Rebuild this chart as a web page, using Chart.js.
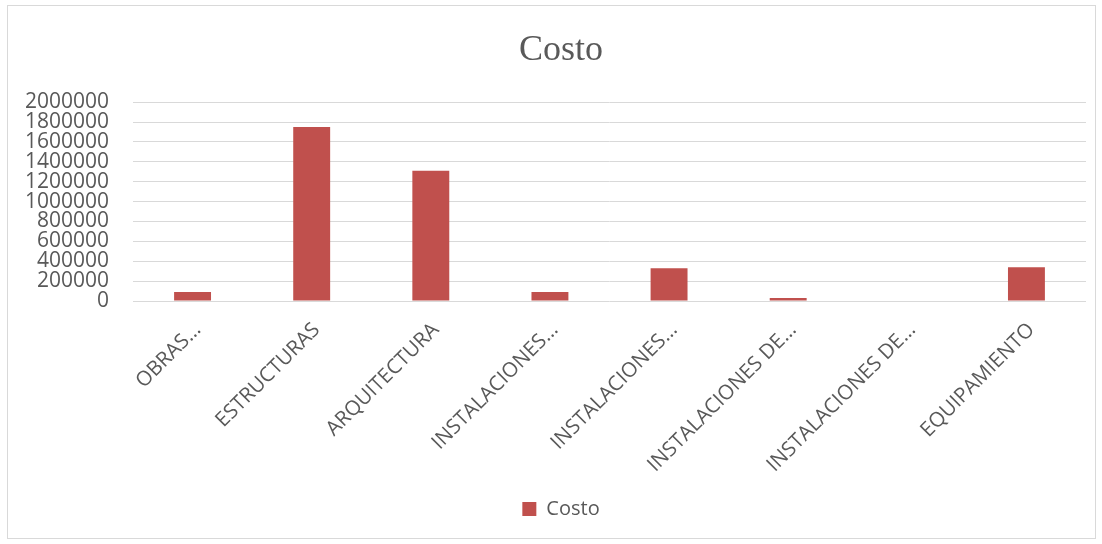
<!DOCTYPE html>
<html>
<head>
<meta charset="utf-8">
<script src="https://cdn.jsdelivr.net/npm/chart.js@4/dist/chart.umd.min.js"></script>
<style>
  html, body { margin: 0; padding: 0; background: #ffffff; }
  #wrap { position: absolute; left: 0; top: 0; width: 1102px; height: 544px; }
</style>
</head>
<body>
<div id="wrap"><canvas id="c" width="1102" height="544"></canvas></div>
<script>
const categories = ['OBRAS…', 'ESTRUCTURAS', 'ARQUITECTURA', 'INSTALACIONES…', 'INSTALACIONES…', 'INSTALACIONES DE…', 'INSTALACIONES DE…', 'EQUIPAMIENTO'];
const costo = [90000, 1750000, 1310000, 90000, 330000, 30000, 0, 340000];
const seriesName = 'Costo';
const chartTitle = 'Costo';
const yMin = 0, yMax = 2000000, yStep = 200000;

const textColor = '#595959';
const gridColor = '#d9d9d9';
const barColor = '#c0504d';

const borderPlugin = {
  id: 'outerBorder',
  beforeDraw(chart) {
    const ctx = chart.ctx;
    ctx.save();
    ctx.fillStyle = '#ffffff';
    ctx.fillRect(0, 0, chart.width, chart.height);
    ctx.strokeStyle = gridColor;
    ctx.lineWidth = 1;
    ctx.strokeRect(7.5, 5.5, 1088, 533);
    ctx.restore();
  }
};

// centre the title and legend over the whole chart frame rather than the padded box
const centreShift = {
  id: 'centreShift',
  afterLayout(chart) {
    const shift = 13;
    [chart.titleBlock, chart.legend].forEach(b => {
      if (b) { b.left += shift; b.right += shift; }
    });
  }
};

new Chart(document.getElementById('c'), {
  type: 'bar',
  data: {
    labels: categories,
    datasets: [{
      label: seriesName,
      data: costo,
      backgroundColor: barColor,
      borderWidth: 0,
      categoryPercentage: 1,
      barPercentage: 0.31
    }]
  },
  options: {
    responsive: false,
    animation: false,
    devicePixelRatio: 1,
    layout: { padding: { left: 10, right: 16, top: 10, bottom: 15 } },
    plugins: {
      title: {
        display: true,
        text: chartTitle,
        color: textColor,
        font: { family: '"Liberation Serif", "Times New Roman", serif', size: 36, weight: 'normal', lineHeight: 1.2 },
        padding: { top: 19, bottom: 30 }
      },
      legend: {
        display: true,
        position: 'bottom',
        labels: {
          color: textColor,
          font: { family: '"Open Sans", sans-serif', size: 20 },
          boxWidth: 14,
          boxHeight: 14,
          padding: 10
        }
      },
      tooltip: { enabled: false }
    },
    scales: {
      x: {
        grid: { display: false, drawTicks: false },
        border: { display: false },
        ticks: {
          color: textColor,
          font: { family: '"Open Sans", sans-serif', size: 20.5 },
          minRotation: 45,
          maxRotation: 45,
          autoSkip: false,
          padding: 17,
          labelOffset: 5
        },
        afterFit(scale) { scale.height = 188; }
      },
      y: {
        min: yMin,
        max: yMax,
        grid: { color: gridColor, lineWidth: 1, drawTicks: false },
        border: { display: false },
        ticks: {
          stepSize: yStep,
          autoSkip: false,
          color: textColor,
          font: { family: '"Open Sans", sans-serif', size: 21, lineHeight: 1 },
          padding: 24,
          callback: (v) => String(v)
        },
        afterFit(scale) { scale.width = 123; }
      }
    }
  },
  plugins: [borderPlugin, centreShift]
});
</script>
</body>
</html>
